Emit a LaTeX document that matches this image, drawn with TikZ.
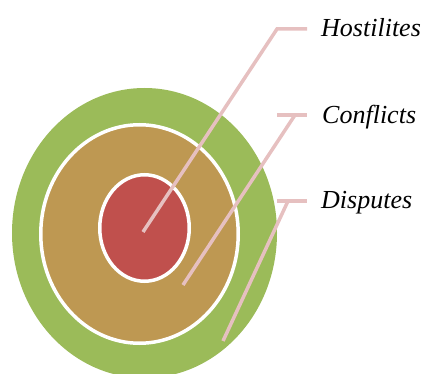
\documentclass[tikz,border=0pt]{standalone}
\usepackage{fontspec}
\setmainfont{Liberation Serif}
\usetikzlibrary{shapes.geometric}
\definecolor{ringgreen}{RGB}{155,187,89}
\definecolor{ringtan}{RGB}{190,152,82}
\definecolor{ringred}{RGB}{192,80,77}
\definecolor{leader}{RGB}{230,192,192}
\begin{document}
\begin{tikzpicture}[x=1pt,y=-1pt,
  ring/.style={ellipse, inner sep=0pt, draw=white, line width=3.5pt},
  leaderline/.style={draw=leader, line width=3.5pt},
  tag/.style={font=\itshape\fontsize{26}{30}\selectfont, anchor=base west, inner sep=0pt}]
\useasboundingbox (0,0) rectangle (423,374);
\begin{scope}
\clip (0,0) rectangle (423,374);
% concentric rings
\node[ellipse, inner sep=0pt, fill=ringgreen, minimum width=265pt, minimum height=290pt] (outer) at (144.5,233) {};
\node[ring, fill=ringtan, minimum width=197.5pt, minimum height=218.5pt] (middle) at (139.5,234) {};
\node[ring, fill=ringred, minimum width=89.5pt, minimum height=106.5pt] (inner) at (144.5,228) {};
\end{scope}
% labels
\node[tag] (hos) at (321,37) {Hostilites};
\node[tag] (con) at (322,123.5) {Conflicts};
\node[tag] (dis) at (321,209) {Disputes};
% leader points
\coordinate (hosStart) at (143,232);
\coordinate (hosElbow) at (277,29);
\coordinate (hosEnd) at (307,29);
\coordinate (conStart) at (183,285);
\coordinate (conElbow) at (295,115);
\coordinate (conBarL) at (277,115);
\coordinate (conEnd) at (307,115);
\coordinate (disStart) at (223,341);
\coordinate (disElbow) at (288,201);
\coordinate (disBarL) at (277,201);
\coordinate (disEnd) at (307,201);
% leaders
\draw[leaderline] (hosStart) -- (hosElbow) -- (hosEnd);
\draw[leaderline] (conStart) -- (conElbow);
\draw[leaderline] (conBarL) -- (conEnd);
\draw[leaderline] (disStart) -- (disElbow);
\draw[leaderline] (disBarL) -- (disEnd);
\end{tikzpicture}
\end{document}
